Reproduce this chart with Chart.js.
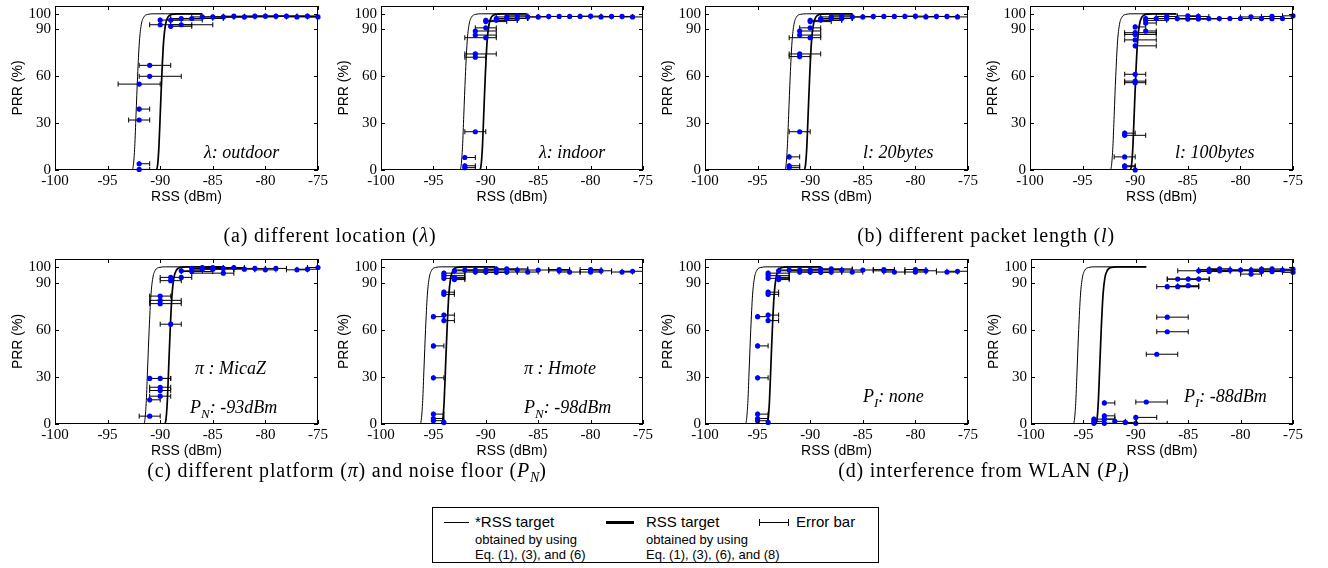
<!DOCTYPE html>
<html>
<head>
<meta charset="utf-8">
<script src="https://cdn.jsdelivr.net/npm/chart.js@4.4.1/dist/chart.umd.min.js"></script>
<style>
  body { margin: 0; width: 1328px; height: 568px; background: #fff; position: relative; overflow: hidden; }
  canvas { position: absolute; }
  .note { position: absolute; font: italic 18px "Liberation Serif", serif; line-height: 18px; white-space: nowrap; }
  .note sub, .cap sub { font-size: 13px; vertical-align: -5px; line-height: 0; }
  .cap { position: absolute; font: 20px "Liberation Serif", serif; letter-spacing: 0.8px; line-height: 22px; white-space: nowrap; transform: translateX(-50%); }
  .cap sub { font-size: 14px; letter-spacing: 0; }
  .legend { position: absolute; left: 432px; top: 507px; width: 445px; height: 54px; border: 1px solid #000; font-family: "Liberation Sans", Arial, sans-serif; }
  .legend div { position: absolute; white-space: nowrap; }
  .big { font-size: 15px; line-height: 15px; }
  .small { font-size: 13px; line-height: 13px; }
</style>
</head>
<body>
<script>
// 軸の目盛り
const xTicks = [-100, -95, -90, -85, -80, -75];
const yTicks = [0, 30, 60, 90, 100];

// 各パネルの測定点 [RSS, PRR, エラーバー下限, エラーバー上限]
const ptsOutdoor = [
  [-92, 0.4, -92, -91], [-92, 4, -92, -91], [-92, 32, -93, -91], [-92, 39, -92, -91],
  [-92, 55, -94, -90], [-91, 60, -92, -88], [-91, 67, -92, -89], [-90, 93, -91, -85],
  [-90, 96, -90, -88], [-89, 92, -89, -87], [-89, 96, -89, -86], [-88, 93, -89, -87],
  [-88, 97, -89, -85], [-87, 97, -88, -84], [-86, 98, -87, -83], [-85, 98, -86, -82],
  [-84, 98, -85, -81], [-83, 98.5, -84, -80], [-82, 98, -83, -79], [-81, 98.5, -82, -78],
  [-80, 98.5, -81, -77], [-79, 98.5, -80, -76], [-78, 98.5, -79, -75], [-77, 98, -78, -75],
  [-76, 98.5, -77, -75], [-75, 98, -76, -75]
];
const ptsIndoor = [
  [-92, 1.5, -92, -91], [-92, 2.7, -92, -91], [-92, 8, -92, -91], [-91, 24.5, -92, -90],
  [-91, 72.2, -92, -90], [-91, 74.3, -92, -89], [-91, 86.4, -91, -89], [-91, 89, -91, -89],
  [-90, 84.7, -92, -89], [-90, 91, -91, -89], [-90, 95, -90, -88], [-90, 95.8, -90, -87],
  [-89, 96, -89, -87], [-89, 97, -89, -86], [-88, 97, -88, -86], [-88, 98, -89, -87],
  [-87, 97, -88, -86], [-87, 98.7, -88, -86], [-86, 98, -87, -85], [-85, 98, -86, -84],
  [-84, 98.3, -85, -83], [-83, 98.3, -84, -82], [-82, 98.3, -83, -81], [-81, 98.3, -82, -80],
  [-80, 98.5, -81, -79], [-79, 98, -80, -78], [-78, 98.3, -79, -77], [-77, 98.3, -78, -76],
  [-76, 98, -77, -75]
];
const pts20bytes = [
  [-92, 1.5, -92, -91], [-92, 2.7, -92, -91], [-92, 8.4, -92, -91], [-91, 24.5, -92, -90],
  [-91, 72.6, -92, -90], [-91, 74.3, -92, -89], [-91, 86.4, -91, -89], [-91, 89, -91, -89],
  [-90, 84.7, -92, -89], [-90, 91, -91, -89], [-90, 95, -90, -88], [-90, 95.8, -90, -87],
  [-89, 96, -89, -87], [-89, 97, -89, -86], [-88, 97, -88, -86], [-88, 98, -89, -87],
  [-87, 97, -88, -86], [-87, 98.7, -88, -86], [-86, 98, -87, -85], [-85, 98, -86, -84],
  [-84, 98.3, -85, -83], [-83, 98.3, -84, -82], [-82, 98.3, -83, -81], [-81, 98.3, -82, -80],
  [-80, 98.5, -81, -79], [-79, 98, -80, -78], [-78, 98.3, -79, -77], [-77, 98.3, -78, -76],
  [-76, 98, -77, -75]
];
const pts100bytes = [
  [-91, 2.1, -91, -90], [-91, 2.7, -91, -90], [-90, 0, -90, -90], [-91, 8.4, -92, -90],
  [-91, 22.2, -91, -89], [-91, 23.6, -91, -90], [-90, 55.9, -91, -89], [-90, 56.9, -91, -89],
  [-90, 61.3, -91, -89], [-90, 79.5, -90, -88], [-90, 83.3, -91, -88], [-90, 86.8, -91, -88],
  [-90, 87.9, -91, -88], [-89, 89, -89, -88], [-90, 91.6, -90, -89], [-89, 94.1, -89, -88],
  [-89, 95.8, -89, -87], [-89, 97, -89, -86], [-88, 97, -89, -86], [-87, 96.9, -88, -85],
  [-87, 98.3, -88, -86], [-86, 97, -87, -84], [-85, 96.7, -86, -83], [-85, 98.7, -86, -84],
  [-84, 96.7, -85, -82], [-84, 98.3, -85, -83], [-83, 97, -84, -82], [-82, 97, -83, -81],
  [-81, 97, -82, -80], [-80, 97, -81, -79], [-79, 98, -80, -78], [-78, 97, -79, -77],
  [-77, 96.9, -78, -76], [-77, 98.3, -78, -76], [-76, 97, -77, -75], [-75, 98.7, -76, -75]
];
const ptsMicaZ = [
  [-91, 5, -92, -90], [-91, 15.4, -91, -90], [-91, 29, -91, -89], [-90, 17.7, -91, -89],
  [-90, 21.3, -91, -89], [-90, 23.4, -91, -89], [-90, 29, -90, -89], [-89, 63.5, -90, -88],
  [-90, 76.6, -91, -88], [-90, 78.7, -91, -88], [-90, 81.4, -91, -89], [-89, 91.2, -90, -88],
  [-89, 93.3, -90, -88], [-88, 93.3, -88, -87], [-88, 97.5, -88, -86], [-87, 97, -88, -85],
  [-87, 99, -87, -84], [-86, 98.5, -87, -84], [-86, 99.6, -86, -83], [-85, 98.5, -86, -83],
  [-85, 99.6, -86, -84], [-84, 96, -87, -83], [-84, 99, -85, -82], [-83, 99.6, -84, -82],
  [-82, 98.5, -83, -81], [-81, 99, -82, -80], [-80, 98.1, -81, -79], [-79, 99, -80, -78],
  [-77, 98.1, -78, -76], [-76, 98.5, -77, -75], [-75, 99.6, -76, -75]
];
const ptsHmote = [
  [-95, 2.1, -95, -94], [-95, 3.5, -95, -94], [-95, 6.3, -95, -94], [-94, 1, -94, -94],
  [-95, 29.4, -95, -94], [-95, 49.7, -95, -94], [-95, 68.3, -95, -94], [-94, 65.8, -94, -93],
  [-94, 69.3, -94, -93], [-94, 82.5, -94, -93], [-94, 83.9, -94, -93], [-94, 92.7, -94, -92],
  [-94, 94.4, -94, -92], [-94, 96, -94, -92], [-93, 91.9, -93, -92], [-93, 93.3, -93, -92],
  [-93, 97.5, -93, -91], [-92, 98, -93, -91], [-91, 96.7, -92, -90], [-91, 98, -92, -89],
  [-90, 96.7, -91, -89], [-90, 98, -91, -88], [-89, 96.5, -90, -88], [-89, 98.5, -90, -87],
  [-88, 96.7, -89, -87], [-88, 98.7, -89, -86], [-87, 98, -88, -86], [-86, 96.7, -87, -85],
  [-85, 98, -86, -84], [-83, 98.3, -84, -82], [-83, 97.5, -84, -82], [-82, 96.7, -83, -81],
  [-80, 96.7, -81, -79], [-80, 98.3, -81, -79], [-79, 97.5, -80, -78], [-77, 96.7, -78, -76],
  [-76, 97.2, -77, -75]
];
const ptsNone = [
  [-95, 2.1, -95, -94], [-95, 3.5, -95, -94], [-95, 6.3, -95, -94], [-94, 1, -94, -94],
  [-95, 29.4, -95, -94], [-95, 49.7, -95, -94], [-95, 68.3, -95, -94], [-94, 65.8, -94, -93],
  [-94, 69.3, -94, -93], [-94, 82.5, -94, -93], [-94, 83.9, -94, -93], [-94, 92.7, -94, -92],
  [-94, 94.4, -94, -92], [-94, 96, -94, -92], [-93, 91.9, -93, -92], [-93, 93.3, -93, -92],
  [-93, 97.5, -93, -91], [-92, 98, -93, -91], [-91, 96.7, -92, -90], [-91, 98, -92, -89],
  [-90, 96.7, -91, -89], [-90, 98, -91, -88], [-89, 96.5, -90, -88], [-89, 98.5, -90, -87],
  [-88, 96.7, -89, -87], [-88, 98.7, -89, -86], [-87, 98, -88, -86], [-86, 96.7, -87, -85],
  [-85, 98, -86, -84], [-83, 98.3, -84, -82], [-83, 97.5, -84, -82], [-82, 96.7, -83, -81],
  [-80, 96.7, -81, -79], [-80, 98.3, -81, -79], [-79, 97.5, -80, -78], [-77, 96.7, -78, -76],
  [-76, 97.2, -77, -75]
];
const pts88dBm = [
  [-94, 0.4, -94, -92], [-94, 1.7, -94, -93], [-94, 3.1, -94, -92], [-93, 0.4, -93, -92],
  [-93, 3.1, -93, -92], [-93, 5.2, -93, -92], [-93, 13.4, -93, -92], [-92, 1.7, -92, -91],
  [-91, 1, -91, -90], [-90, 0.4, -90, -87], [-90, 4.2, -90, -88], [-89, 14, -90, -87],
  [-88, 44.4, -89, -86], [-87, 58.7, -88, -85], [-87, 68, -88, -85], [-87, 87.4, -88, -84],
  [-86, 87.4, -87, -84], [-85, 88, -86, -84], [-86, 92.2, -87, -84], [-85, 92.2, -87, -83],
  [-84, 92.2, -85, -83], [-84, 97.5, -86, -75], [-83, 97, -84, -81], [-83, 98.3, -84, -82],
  [-82, 97.5, -83, -80], [-82, 98.8, -83, -81], [-81, 98, -82, -80], [-80, 98, -81, -79],
  [-79, 95.4, -80, -78], [-79, 98, -80, -78], [-78, 97, -79, -77], [-78, 98.5, -79, -77],
  [-77, 97, -78, -76], [-77, 98.7, -78, -76], [-76, 98, -77, -75], [-75, 96.5, -76, -75],
  [-75, 98.5, -76, -75]
];

// 理論曲線 (細線: *RSS target, 太線: RSS target) [RSS, PRR]
const thinOutdoor = [[-100,0],[-92.7,0],[-92.55,3],[-92.42,15],[-92.3,35],[-92.15,60],[-91.98,82],[-91.8,93],[-91.55,98],[-91.2,99.6],[-90.6,100],[-86,100]];
const thickOutdoor = [[-100,0],[-90.4,0],[-90.25,3],[-90.12,15],[-90,35],[-89.85,60],[-89.68,82],[-89.5,93],[-89.25,98],[-88.9,99.6],[-88.3,100],[-86,100]];
const thinIndoor = [[-100,0],[-92.5,0],[-92.35,3],[-92.22,15],[-92.1,35],[-91.95,60],[-91.78,82],[-91.6,93],[-91.35,98],[-91,99.6],[-90.4,100],[-86.1,100]];
const thickIndoor = [[-100,0],[-90.6,0],[-90.45,3],[-90.32,15],[-90.2,35],[-90.05,60],[-89.88,82],[-89.7,93],[-89.45,98],[-89.1,99.6],[-88.5,100],[-86.1,100]];
const thin20bytes = [[-100,0],[-92.45,0],[-92.3,3],[-92.17,15],[-92.05,35],[-91.9,60],[-91.73,82],[-91.55,93],[-91.3,98],[-90.95,99.6],[-90.35,100],[-86,100]];
const thick20bytes = [[-100,0],[-90.6,0],[-90.45,3],[-90.32,15],[-90.2,35],[-90.05,60],[-89.88,82],[-89.7,93],[-89.45,98],[-89.1,99.6],[-88.5,100],[-86,100]];
const thin100bytes = [[-100,0],[-92.4,0],[-92.25,3],[-92.12,15],[-92,35],[-91.85,60],[-91.68,82],[-91.5,93],[-91.25,98],[-90.9,99.6],[-90.3,100],[-86.1,100]];
const thick100bytes = [[-100,0],[-90.5,0],[-90.35,3],[-90.22,15],[-90.1,35],[-89.95,60],[-89.78,82],[-89.6,93],[-89.35,98],[-89,99.6],[-88.4,100],[-86.1,100]];
const thinMicaZ = [[-100,0],[-91.6,0],[-91.45,3],[-91.32,15],[-91.2,35],[-91.05,60],[-90.88,82],[-90.7,93],[-90.45,98],[-90.1,99.6],[-89.5,100],[-84,100]];
const thickMicaZ = [[-100,0],[-89.6,0],[-89.45,3],[-89.32,15],[-89.2,35],[-89.05,60],[-88.88,82],[-88.7,93],[-88.45,98],[-88.1,99.6],[-87.5,100],[-84,100]];
const thinHmote = [[-100,0],[-96.3,0],[-96.15,3],[-96.02,15],[-95.9,35],[-95.75,60],[-95.58,82],[-95.4,93],[-95.15,98],[-94.8,99.6],[-94.2,100],[-89.1,100]];
const thickHmote = [[-100,0],[-94.25,0],[-94.1,3],[-93.97,15],[-93.85,35],[-93.7,60],[-93.53,82],[-93.35,93],[-93.1,98],[-92.75,99.6],[-92.15,100],[-89.1,100]];
const thinNone = [[-100,0],[-96.2,0],[-96.05,3],[-95.92,15],[-95.8,35],[-95.65,60],[-95.48,82],[-95.3,93],[-95.05,98],[-94.7,99.6],[-94.1,100],[-89,100]];
const thickNone = [[-100,0],[-94.15,0],[-94,3],[-93.87,15],[-93.75,35],[-93.6,60],[-93.43,82],[-93.25,93],[-93,98],[-92.65,99.6],[-92.05,100],[-89,100]];
const thin88dBm = [[-100,0],[-96,0],[-95.85,3],[-95.72,15],[-95.6,35],[-95.45,60],[-95.28,82],[-95.1,93],[-94.85,98],[-94.5,99.6],[-93.9,100],[-89,100]];
const thick88dBm = [[-100,0],[-93.85,0],[-93.7,3],[-93.57,15],[-93.45,35],[-93.3,60],[-93.13,82],[-92.95,93],[-92.7,98],[-92.35,99.6],[-91.75,100],[-89,100]];

// パネル内の注記とキャプション
const notes = ['λ: outdoor', 'λ: indoor', 'l: 20bytes', 'l: 100bytes',
  'π : MicaZ|P<sub>N</sub>: -93dBm', 'π : Hmote|P<sub>N</sub>: -98dBm', 'P<sub>I</sub>: none', 'P<sub>I</sub>: -88dBm'];
const captions = ['(a) different location (<i>λ</i>)', '(b) different packet length (<i>l</i>)',
  '(c) different platform (<i>π</i>) and noise floor (<i>P<sub>N</sub></i>)', '(d) interference from WLAN (<i>P<sub>I</sub></i>)'];

// 描画エリアの位置 [左, 上, 右, 下]
const boxes = [
  [55, 3, 318, 170], [381, 3, 643, 170], [705, 3, 968, 170], [1030, 3, 1293, 170],
  [55, 256, 318, 424], [381, 256, 643, 424], [705, 256, 968, 424], [1031, 256, 1293, 424]
];
const panels = [
  [ptsOutdoor, thinOutdoor, thickOutdoor], [ptsIndoor, thinIndoor, thickIndoor],
  [pts20bytes, thin20bytes, thick20bytes], [pts100bytes, thin100bytes, thick100bytes],
  [ptsMicaZ, thinMicaZ, thickMicaZ], [ptsHmote, thinHmote, thickHmote],
  [ptsNone, thinNone, thickNone], [pts88dBm, thin88dBm, thick88dBm]
];
const notePos = [
  [[204, 143]], [[539, 143]], [[863, 143]], [[1175, 143]],
  [[195, 359], [190, 398]], [[524, 359], [524, 398]], [[863, 387]], [[1184, 387]]
];
const capPos = [[330, 224], [986, 224], [347, 459], [984, 459]];

// 枠と内向きの目盛り (MATLAB風)
const boxTicks = {
  id: 'boxTicks',
  afterDraw(chart) {
    const { ctx, chartArea: a, scales: { x, y } } = chart;
    ctx.save();
    ctx.strokeStyle = '#000';
    ctx.lineWidth = 1;
    ctx.strokeRect(a.left + 0.5, a.top + 0.5, a.width - 1, a.height - 1);
    ctx.beginPath();
    x.ticks.forEach(t => {
      const px = Math.round(x.getPixelForValue(t.value)) + 0.5;
      ctx.moveTo(px, a.bottom); ctx.lineTo(px, a.bottom - 4);
      ctx.moveTo(px, a.top); ctx.lineTo(px, a.top + 4);
    });
    y.ticks.forEach(t => {
      const py = Math.round(y.getPixelForValue(t.value)) + 0.5;
      ctx.moveTo(a.left, py); ctx.lineTo(a.left + 4, py);
      ctx.moveTo(a.right, py); ctx.lineTo(a.right - 4, py);
    });
    ctx.stroke();
    ctx.restore();
  }
};

function drawPanel(i) {
  const [l, t, r, b] = boxes[i];
  const [pts, thin, thick] = panels[i];
  const canvas = document.createElement('canvas');
  canvas.width = (r - l) + 50 + 14;
  canvas.height = (b - t) + 10 + 45;
  canvas.style.left = (l - 50) + 'px';
  canvas.style.top = (t - 10) + 'px';
  document.body.appendChild(canvas);

  // エラーバー: 区間ごとに null で区切る
  const bars = [];
  pts.forEach(p => {
    bars.push({ x: p[2], y: p[1] }, { x: p[3], y: p[1] }, { x: p[3], y: null });
  });

  new Chart(canvas.getContext('2d'), {
    type: 'line',
    data: {
      datasets: [
        {
          data: pts.map(p => ({ x: p[0], y: p[1] })),
          showLine: false, pointRadius: 2.6, pointBackgroundColor: '#0000ff',
          pointBorderWidth: 0, order: 0, clip: 6
        },
        {
          data: bars, showLine: true, spanGaps: false, borderColor: '#000', borderWidth: 1,
          pointStyle: 'line', pointRotation: 90, pointRadius: 2.5,
          pointBorderColor: '#000', pointBorderWidth: 1, order: 1
        },
        {
          data: thin.map(p => ({ x: p[0], y: p[1] })),
          borderColor: '#000', borderWidth: 1, pointRadius: 0,
          cubicInterpolationMode: 'monotone', order: 2
        },
        {
          data: thick.map(p => ({ x: p[0], y: p[1] })),
          borderColor: '#000', borderWidth: 1.7, pointRadius: 0,
          cubicInterpolationMode: 'monotone', order: 2
        }
      ]
    },
    options: {
      responsive: false,
      animation: false,
      devicePixelRatio: 1,
      layout: { padding: { top: 10, right: 14, left: 0, bottom: 0 } },
      plugins: { legend: { display: false }, tooltip: { enabled: false } },
      scales: {
        x: {
          type: 'linear', min: -100, max: -75,
          afterBuildTicks: s => { s.ticks = xTicks.map(v => ({ value: v })); },
          afterFit: s => { s.height = 45; },
          grid: { display: false, drawTicks: false },
          border: { display: false },
          ticks: { autoSkip: false, maxRotation: 0, padding: 2, color: '#000',
                   font: { family: '"Liberation Serif", serif', size: 15 } },
          title: { display: true, text: 'RSS (dBm)', color: '#000', padding: { top: 0, bottom: 9 },
                   font: { family: '"Liberation Sans", Arial, sans-serif', size: 14 } }
        },
        y: {
          type: 'linear', min: 0, max: 105,
          afterBuildTicks: s => { s.ticks = yTicks.map(v => ({ value: v })); },
          afterFit: s => { s.width = 50; },
          grid: { display: false, drawTicks: false },
          border: { display: false },
          ticks: { autoSkip: false, padding: 4, color: '#000',
                   font: { family: '"Liberation Serif", serif', size: 15 } },
          title: { display: true, text: 'PRR (%)', color: '#000', padding: { top: 5, bottom: 0 },
                   font: { family: '"Liberation Sans", Arial, sans-serif', size: 14 } }
        }
      }
    },
    plugins: [boxTicks]
  });

  notes[i].split('|').forEach((txt, k) => {
    const d = document.createElement('div');
    d.className = 'note';
    d.innerHTML = txt;
    d.style.left = notePos[i][k][0] + 'px';
    d.style.top = notePos[i][k][1] + 'px';
    document.body.appendChild(d);
  });
}

function drawAll() {
  for (let i = 0; i < boxes.length; i++) drawPanel(i);
  captions.forEach((c, i) => {
    const d = document.createElement('div');
    d.className = 'cap';
    d.innerHTML = c;
    d.style.left = capPos[i][0] + 'px';
    d.style.top = capPos[i][1] + 'px';
    document.body.appendChild(d);
  });
}

window.onload = drawAll;
</script>

<div class="legend">
  <div style="left:11px; top:14px; width:25px; border-top:1px solid #000;"></div>
  <div class="big" style="left:42px; top:6px;">*RSS target</div>
  <div class="small" style="left:42px; top:25px;">obtained by using</div>
  <div class="small" style="left:42px; top:40px;">Eq. (1), (3), and (6)</div>
  <div style="left:173px; top:13px; width:28px; height:3px; background:#000;"></div>
  <div class="big" style="left:213px; top:6px;">RSS target</div>
  <div class="small" style="left:213px; top:25px;">obtained by using</div>
  <div class="small" style="left:213px; top:40px;">Eq. (1), (3), (6), and (8)</div>
  <div style="left:326px; top:14px; width:30px; border-top:1px solid #000;"></div>
  <div style="left:326px; top:11px; width:1px; height:7px; background:#000;"></div>
  <div style="left:355px; top:11px; width:1px; height:7px; background:#000;"></div>
  <div class="big" style="left:363px; top:6px;">Error bar</div>
</div>
</body>
</html>
